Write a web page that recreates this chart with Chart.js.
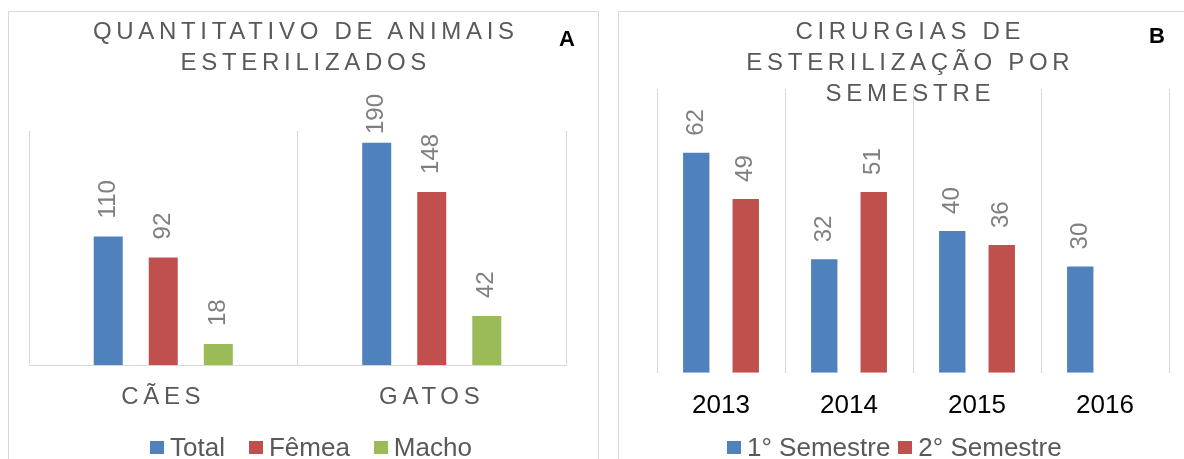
<!DOCTYPE html>
<html>
<head>
<meta charset="utf-8">
<script src="https://cdn.jsdelivr.net/npm/chart.js"></script>
<style>
  body{margin:0;background:#fff;font-family:"Liberation Sans",Arial,sans-serif;width:1184px;height:459px;overflow:hidden;position:relative;}
  .panel{position:absolute;top:11px;height:460px;border:1px solid #d9d9d9;background:#fff;}
  .panel canvas{position:absolute;left:0;top:0;}
  .title{position:absolute;left:0;right:0;top:3px;text-align:center;font-size:24px;line-height:31px;letter-spacing:4.7px;padding-left:4.7px;color:#595959;}
  .tag{position:absolute;font-weight:bold;font-size:22px;line-height:22px;color:#000;}
  .legend{position:absolute;top:432px;display:flex;align-items:center;font-size:26px;line-height:30px;color:#595959;white-space:nowrap;}
  .legend .box{display:inline-block;width:14px;height:13px;margin-right:6px;}
  .legend .item{display:flex;align-items:center;}
</style>
</head>
<body>

<div class="panel" id="panelA" style="left:8px;width:589px;">
  <canvas id="chartA" width="589" height="447"></canvas>
  <div class="title">QUANTITATIVO DE ANIMAIS<br>ESTERILIZADOS</div>
  <div class="tag" style="left:550px;top:16px;">A</div>
</div>

<div class="panel" id="panelB" style="left:618px;width:578px;">
  <canvas id="chartB" width="578" height="447"></canvas>
  <div class="title">CIRURGIAS DE<br>ESTERILIZAÇÃO POR<br>SEMESTRE</div>
  <div class="tag" style="left:530px;top:13px;">B</div>
</div>

<div class="legend" id="legendA" style="left:150px;"></div>
<div class="legend" id="legendB" style="left:727px;"></div>

<script>
// ---------- data ----------
const animais = ["CÃES", "GATOS"];
const total = [110, 190];
const femea = [92, 148];
const macho = [18, 42];

const anos = ["2013", "2014", "2015", "2016"];
const sem1 = [62, 32, 40, 30];
const sem2 = [49, 51, 36, null];

const BLUE = "#4f81bd", RED = "#c0504d", GREEN = "#9bbb59";
const FONT = '"Liberation Sans", Arial, sans-serif';

// value labels rotated 90deg above bars (+ letter spacing for tick labels drawn after)
const barLabels = {
  id: "barLabels",
  afterDatasetsDraw(chart, args, opts) {
    const ctx = chart.ctx;
    const top = chart.chartArea.top - opts.maxAbove;
    ctx.save();
    ctx.font = "24px " + FONT;
    ctx.fillStyle = "#7f7f7f";
    ctx.textAlign = "left";
    ctx.textBaseline = "middle";
    chart.data.datasets.forEach((ds, i) => {
      chart.getDatasetMeta(i).data.forEach((bar, j) => {
        const v = ds.data[j];
        if (v == null) return;
        const txt = String(v);
        const w = ctx.measureText(txt).width;
        let y = bar.y - opts.gap;
        if (y - w < top) y = top + w;
        ctx.save();
        ctx.translate(bar.x, y);
        ctx.rotate(-Math.PI / 2);
        ctx.fillText(txt, 0, 0);
        ctx.restore();
      });
    });
    ctx.restore();
    if (opts.tickSpacing) ctx.letterSpacing = opts.tickSpacing;
  },
  afterDraw(chart) {
    chart.ctx.letterSpacing = "0px";
  }
};

function makeChart(id, labels, datasets, o) {
  return new Chart(document.getElementById(id), {
    type: "bar",
    data: { labels: labels, datasets: datasets },
    options: {
      responsive: false,
      animation: false,
      events: [],
      categoryPercentage: o.catPct,
      barPercentage: o.barPct,
      layout: { padding: o.padding },
      plugins: {
        legend: { display: false },
        tooltip: { enabled: false },
        barLabels: { gap: o.gap, maxAbove: o.maxAbove, tickSpacing: o.tickSpacing }
      },
      scales: {
        x: {
          grid: { color: "#d9d9d9", lineWidth: 1, drawTicks: false, offset: true },
          border: { display: o.baseline, color: "#d9d9d9", width: 1 },
          ticks: {
            z: 1,
            color: o.tickColor,
            font: { family: FONT, size: o.tickSize },
            padding: o.tickPad,
            maxRotation: 0,
            autoSkip: false
          }
        },
        y: { display: false, min: 0, max: o.max }
      }
    },
    plugins: [barLabels]
  });
}

const dsA = [
  { label: "Total", data: total, backgroundColor: BLUE },
  { label: "Fêmea", data: femea, backgroundColor: RED },
  { label: "Macho", data: macho, backgroundColor: GREEN }
];
const dsB = [
  { label: "1° Semestre", data: sem1, backgroundColor: BLUE },
  { label: "2° Semestre", data: sem2, backgroundColor: RED }
];

makeChart("chartA", animais, dsA, {
  max: 200, catPct: 0.615, barPct: 0.527,
  padding: { left: 20, right: 32, top: 119, bottom: 29 },
  gap: 18, maxAbove: 37, tickSpacing: "4.7px",
  baseline: true, tickColor: "#595959", tickSize: 24, tickPad: 18
});

makeChart("chartB", anos, dsB, {
  max: 80, catPct: 0.773, barPct: 0.533,
  padding: { left: 38, right: 28, top: 77, bottom: 21 },
  gap: 17, maxAbove: 999, tickSpacing: null,
  baseline: false, tickColor: "#000000", tickSize: 26, tickPad: 17
});

// html legends
function legend(id, datasets, gap) {
  const el = document.getElementById(id);
  el.innerHTML = datasets.map((d, i) =>
    `<span class="item" style="margin-right:${i < datasets.length - 1 ? gap : 0}px">` +
    `<span class="box" style="background:${d.backgroundColor}"></span>${d.label}</span>`
  ).join("");
}
legend("legendA", dsA, 24);
legend("legendB", dsB, 8);
</script>
</body>
</html>
